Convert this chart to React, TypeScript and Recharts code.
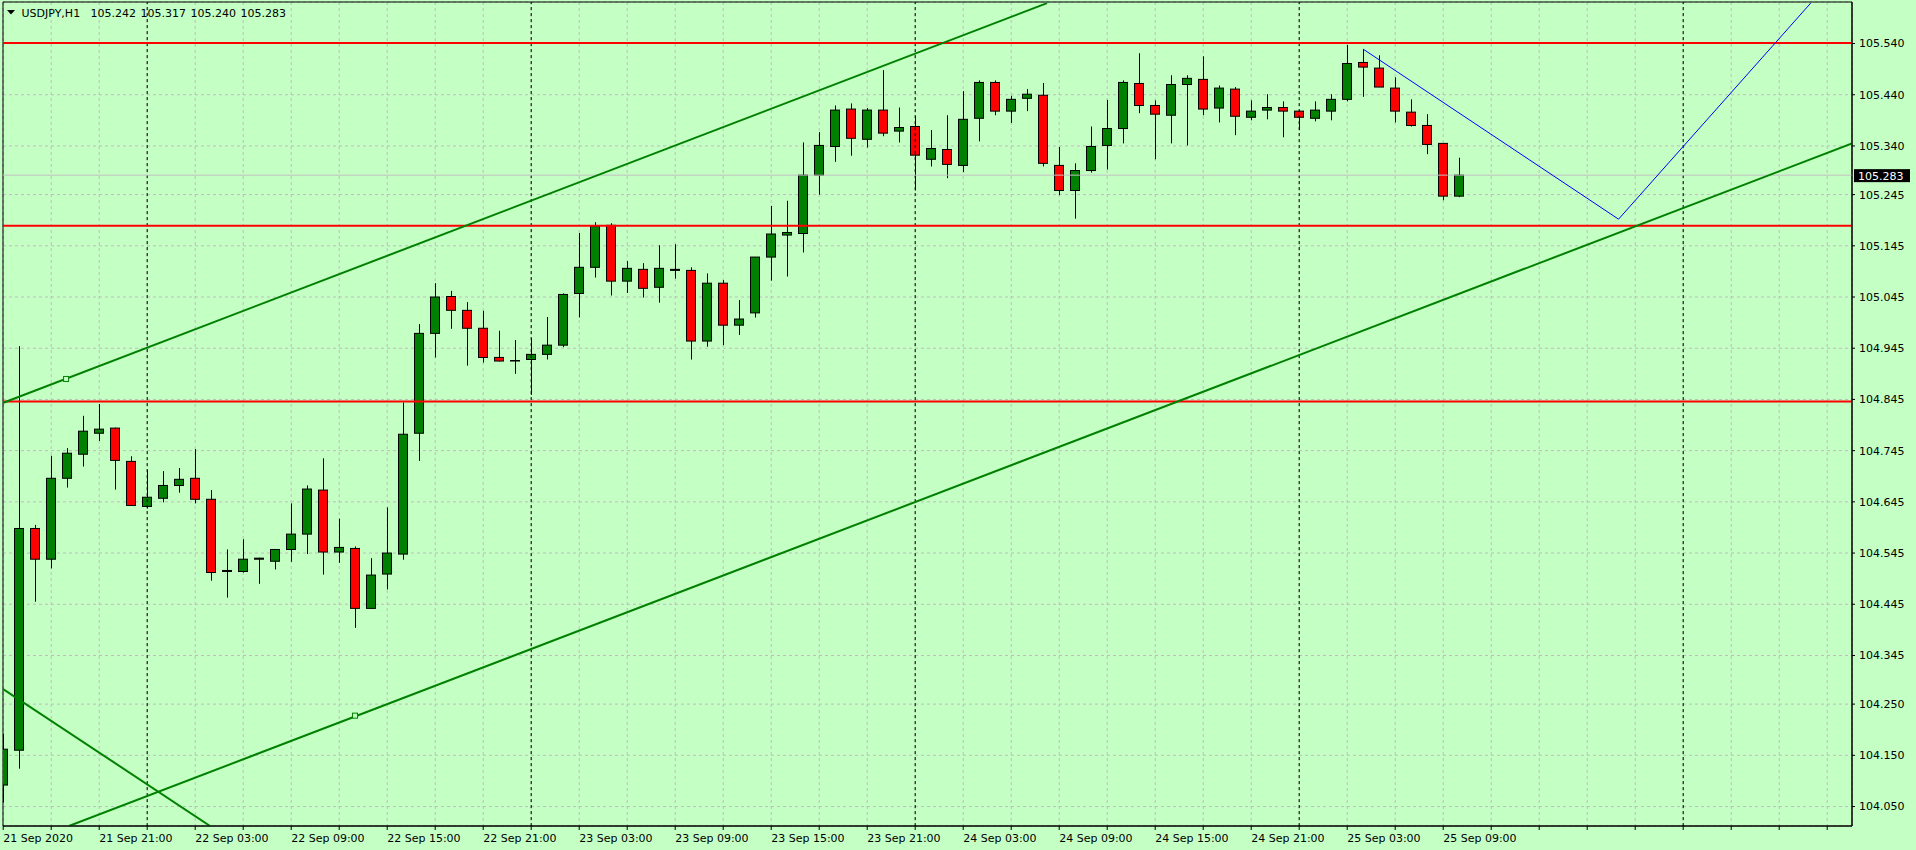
import React from 'react';
import {
  Bar,
  CartesianGrid,
  ComposedChart,
  ReferenceArea,
  ReferenceDot,
  ReferenceLine,
  XAxis,
  YAxis,
} from 'recharts';

// USDJPY H1 bars, oldest first (bar 0 = 21 Sep 15:00)
const OPEN = [
  104.092, 104.16, 104.593, 104.533, 104.691, 104.738, 104.779, 104.789, 104.724, 104.636,
  104.652, 104.677, 104.691, 104.65, 104.509, 104.509, 104.533, 104.529, 104.552, 104.582,
  104.668, 104.547, 104.554, 104.437, 104.504, 104.543, 104.779, 104.974, 105.046, 105.019,
  104.984, 104.927, 104.92, 104.923, 104.933, 104.951, 105.052, 105.103, 105.185, 105.076,
  105.099, 105.064, 105.097, 105.097, 104.959, 105.072, 104.99, 105.014, 105.123, 105.166,
  105.169, 105.283, 105.339, 105.412, 105.353, 105.41, 105.369, 105.378, 105.314, 105.333,
  105.302, 105.394, 105.464, 105.408, 105.433, 105.439, 105.302, 105.253, 105.292, 105.341,
  105.374, 105.462, 105.419, 105.4, 105.46, 105.47, 105.414, 105.451, 105.396, 105.41,
  105.415, 105.408, 105.394, 105.408, 105.431, 105.503, 105.492, 105.453, 105.406, 105.38,
  105.345, 105.242,
];
const HIGH = [
  104.192, 104.949, 104.6, 104.735, 104.75, 104.813, 104.836, 104.79, 104.734, 104.707,
  104.705, 104.711, 104.748, 104.668, 104.552, 104.572, 104.536, 104.552, 104.642, 104.677,
  104.73, 104.612, 104.558, 104.535, 104.634, 104.839, 104.992, 105.072, 105.057, 105.035,
  105.018, 104.979, 104.961, 104.964, 105.006, 105.052, 105.17, 105.191, 105.189, 105.115,
  105.111, 105.146, 105.148, 105.103, 105.091, 105.078, 105.039, 105.123, 105.223, 105.233,
  105.347, 105.367, 105.419, 105.423, 105.414, 105.488, 105.415, 105.398, 105.371, 105.4,
  105.447, 105.468, 105.468, 105.438, 105.451, 105.463, 105.338, 105.306, 105.378, 105.43,
  105.468, 105.521, 105.429, 105.478, 105.478, 105.515, 105.458, 105.455, 105.429, 105.441,
  105.427, 105.409, 105.427, 105.441, 105.537, 105.529, 105.517, 105.474, 105.431, 105.402,
  105.345, 105.317,
];
const LOW = [
  104.058, 104.124, 104.45, 104.515, 104.673, 104.714, 104.764, 104.669, 104.638, 104.632,
  104.644, 104.663, 104.642, 104.491, 104.458, 104.507, 104.485, 104.513, 104.528, 104.543,
  104.503, 104.526, 104.399, 104.436, 104.474, 104.532, 104.725, 104.927, 104.983, 104.911,
  104.917, 104.919, 104.895, 104.854, 104.923, 104.947, 105.005, 105.083, 105.048, 105.053,
  105.044, 105.034, 105.081, 104.923, 104.948, 104.951, 104.971, 105.005, 105.077, 105.085,
  105.132, 105.245, 105.309, 105.321, 105.337, 105.359, 105.347, 105.253, 105.3, 105.277,
  105.289, 105.349, 105.4, 105.385, 105.408, 105.3, 105.244, 105.198, 105.288, 105.294,
  105.345, 105.404, 105.314, 105.345, 105.341, 105.4, 105.386, 105.361, 105.39, 105.392,
  105.357, 105.371, 105.388, 105.39, 105.427, 105.436, 105.455, 105.386, 105.378, 105.324,
  105.234, 105.24,
];
const CLOSE = [
  104.162, 104.593, 104.533, 104.691, 104.74, 104.783, 104.787, 104.726, 104.638, 104.654,
  104.677, 104.689, 104.65, 104.507, 104.511, 104.533, 104.535, 104.552, 104.582, 104.67,
  104.547, 104.556, 104.437, 104.502, 104.545, 104.777, 104.974, 105.045, 105.019, 104.984,
  104.927, 104.92, 104.921, 104.933, 104.951, 105.05, 105.103, 105.183, 105.076, 105.101,
  105.062, 105.101, 105.099, 104.959, 105.072, 104.99, 105.002, 105.123, 105.168, 105.171,
  105.283, 105.341, 105.41, 105.355, 105.41, 105.365, 105.376, 105.322, 105.335, 105.304,
  105.392, 105.464, 105.408, 105.431, 105.441, 105.306, 105.253, 105.292, 105.339, 105.374,
  105.464, 105.419, 105.402, 105.46, 105.472, 105.412, 105.453, 105.398, 105.408, 105.415,
  105.408, 105.396, 105.41, 105.431, 105.501, 105.494, 105.455, 105.408, 105.38, 105.343,
  105.242, 105.283,
];

const TIME_LABELS = [
  '21 Sep 2020', '21 Sep 21:00', '22 Sep 03:00', '22 Sep 09:00', '22 Sep 15:00', '22 Sep 21:00',
  '23 Sep 03:00', '23 Sep 09:00', '23 Sep 15:00', '23 Sep 21:00', '24 Sep 03:00', '24 Sep 09:00',
  '24 Sep 15:00', '24 Sep 21:00', '25 Sep 03:00', '25 Sep 09:00',
];
const LABEL_STEP = 6; // bars between time labels
const GRID_STEP = 3; // bars between vertical grid lines
const DAY_SEPARATORS = [9, 33, 57, 81, 105];

const PRICE_TICKS = [
  105.54, 105.44, 105.34, 105.245, 105.145, 105.045, 104.945, 104.845, 104.745, 104.645,
  104.545, 104.445, 104.345, 104.25, 104.15, 104.05,
];
const LEVELS = [105.541, 105.184, 104.841];

// drawn objects: [bar index, price]
const CHANNEL_TOP = [[-0.03, 104.838], [65.24, 105.619]];
const CHANNEL_BOTTOM = [[4.11, 104.012], [115.55, 105.345]];
const FALLING_LINE = [[-0.03, 104.28], [12.93, 104.012]];
const ZIGZAG = [[85, 105.529], [100.96, 105.197], [112.97, 105.619]];
const ANCHORS = [[3.93, 104.885], [21.99, 104.2275]];

const X_MIN = -0.0125;
const X_MAX = 115.55;
const Y_MIN = 104.012;
const Y_MAX = 105.6211;

const BG = '#c4ffc4';
const FONT = "'DejaVu Sans', Tahoma, sans-serif";

const data = OPEN.map((o, i) => ({
  i,
  o,
  h: HIGH[i],
  l: LOW[i],
  c: CLOSE[i],
  range: [LOW[i], HIGH[i]],
}));

const last = data[data.length - 1];

const gridTicks: number[] = [];
for (let t = 0; t <= X_MAX; t += GRID_STEP) gridTicks.push(t);

function Candle(props: any) {
  const { x, y, width, height, payload } = props;
  if (x == null || y == null || !payload) return null;
  const cx = Math.round(x + width / 2) + 0.5;
  const top = Math.min(y, y + height);
  const bot = Math.max(y, y + height);
  const span = payload.h - payload.l;
  const k = span > 0 ? (bot - top) / span : 0;
  const py = (p: number) => top + (payload.h - p) * k;
  const yo = py(payload.o);
  const yc = py(payload.c);
  const bodyTop = Math.min(yo, yc);
  const bodyH = Math.max(Math.abs(yc - yo), 0.5);
  const bull = payload.c >= payload.o;
  return (
    <g>
      <line x1={cx} x2={cx} y1={top} y2={bot} stroke='#000' strokeWidth={1} />
      <rect
        x={cx - 5}
        y={bodyTop}
        width={9}
        height={bodyH}
        fill={bull ? '#008000' : '#ff0000'}
        stroke='#000'
        strokeWidth={1}
      />
    </g>
  );
}

function TimeTick(props: any) {
  const { x, y, payload } = props;
  const v = payload.value;
  if (v % LABEL_STEP !== 0) return null;
  const label = TIME_LABELS[v / LABEL_STEP];
  if (!label) return null;
  return (
    <text x={x} y={y + 10} fontFamily={FONT} fontSize={11} fill='#000' textAnchor='start'>
      {label}
    </text>
  );
}

function PriceTag(props: any) {
  const vb = props.viewBox;
  if (!vb) return null;
  const x = vb.x + vb.width + 2;
  return (
    <g>
      <rect x={x} y={vb.y - 6} width={56} height={13} fill='#000' />
      <text x={x + 4} y={vb.y + 4.5} fontFamily={FONT} fontSize={11} fill='#fff'>
        {last.c.toFixed(3)}
      </text>
    </g>
  );
}

function AnchorBox(props: any) {
  const { cx, cy } = props;
  if (cx == null) return null;
  return <rect x={cx - 2.5} y={cy - 2.5} width={5} height={5} fill={BG} stroke='#008000' strokeWidth={1} />;
}

const seg = (pts: number[][], k: number) => [
  { x: pts[k][0], y: pts[k][1] },
  { x: pts[k + 1][0], y: pts[k + 1][1] },
];

export default function App() {
  return (
    <div style={{ position: 'relative', width: 1916, height: 850, background: BG, overflow: 'hidden' }}>
      <style>{'body{margin:0;background:' + BG + ';}'}</style>
      <ComposedChart
        width={1916}
        height={850}
        data={data}
        margin={{ top: 2, right: 0, bottom: 0, left: 3 }}
      >
        <CartesianGrid stroke='#c4b8c4' strokeDasharray='3 3' />
        <XAxis
          dataKey='i'
          type='number'
          domain={[X_MIN, X_MAX]}
          allowDataOverflow
          ticks={gridTicks}
          interval={0}
          height={24}
          tick={<TimeTick />}
          tickSize={4}
          tickMargin={2}
          axisLine={{ stroke: '#000' }}
          tickLine={{ stroke: '#000' }}
        />
        <YAxis
          orientation='right'
          type='number'
          domain={[Y_MIN, Y_MAX]}
          allowDataOverflow
          ticks={PRICE_TICKS}
          interval={0}
          width={64}
          tickFormatter={(v: number) => v.toFixed(3)}
          tick={{ fontFamily: FONT, fontSize: 11, fill: '#000' }}
          tickSize={3}
          tickMargin={4}
          axisLine={{ stroke: '#000' }}
          tickLine={{ stroke: '#000' }}
        />
        {DAY_SEPARATORS.map((d) => (
          <ReferenceLine key={'d' + d} x={d} stroke='#000' strokeDasharray='3 3' />
        ))}
        <ReferenceLine y={last.c} stroke='#c0c0c0' label={<PriceTag />} />
        <Bar dataKey='range' barSize={10} shape={<Candle />} isAnimationActive={false} />
        {LEVELS.map((p) => (
          <ReferenceLine key={'l' + p} y={p} stroke='#ff0000' strokeWidth={2} />
        ))}
        <ReferenceLine segment={seg(CHANNEL_TOP, 0)} stroke='#008000' strokeWidth={2} ifOverflow='hidden' />
        <ReferenceLine segment={seg(CHANNEL_BOTTOM, 0)} stroke='#008000' strokeWidth={2} ifOverflow='hidden' />
        <ReferenceLine segment={seg(FALLING_LINE, 0)} stroke='#008000' strokeWidth={2} ifOverflow='hidden' />
        <ReferenceLine segment={seg(ZIGZAG, 0)} stroke='#0000ff' strokeWidth={1} ifOverflow='hidden' />
        <ReferenceLine segment={seg(ZIGZAG, 1)} stroke='#0000ff' strokeWidth={1} ifOverflow='hidden' />
        {ANCHORS.map(([ax, ay]) => (
          <ReferenceDot key={'a' + ax} x={ax} y={ay} r={3} shape={<AnchorBox />} />
        ))}
        <ReferenceArea x1={X_MIN} x2={X_MAX} y1={Y_MIN} y2={Y_MAX} fill='none' stroke='#000' ifOverflow='visible' />
      </ComposedChart>
      <svg width={400} height={24} style={{ position: 'absolute', left: 0, top: 0 }}>
        <polygon points='7,10 15,10 11,14.5' fill='#000' />
        <text x={21.5} y={17} fontFamily={FONT} fontSize={11} fill='#000'>
          USDJPY,H1
        </text>
        {[last.o, last.h, last.l, last.c].map((v, k) => (
          <text key={k} x={90.5 + k * 50} y={17} fontFamily={FONT} fontSize={11} fill='#000'>
            {v.toFixed(3)}
          </text>
        ))}
      </svg>
    </div>
  );
}
